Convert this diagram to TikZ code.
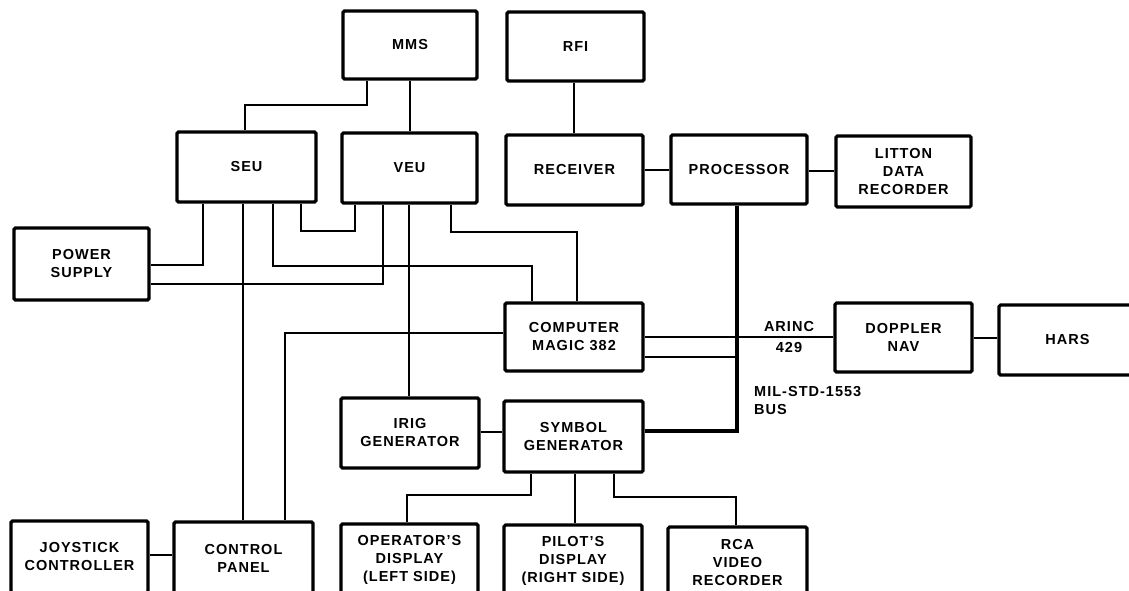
\documentclass[tikz,border=0pt]{standalone}
\usepackage{fontspec}
\setmainfont{Liberation Sans}[LetterSpace=7]
\begin{document}
\begin{tikzpicture}[x=1pt,y=-1pt,
  blk/.style={draw, line width=3.2pt, rounded corners=1.5pt, align=center, inner sep=0pt,
    font=\fontsize{14.5}{18}\selectfont\bfseries},
  wire/.style={line width=1.6pt},
  mwire/.style={line width=2.4pt},
  buswire/.style={line width=3.2pt},
  lbl/.style={inner sep=0pt, font=\fontsize{14.5}{18}\selectfont\bfseries}]
\path[use as bounding box, clip] (0,0) rectangle (1129,591);
\fill[white] (0,0) rectangle (1129,591);
% boxes
\node[blk, minimum width=134pt, minimum height=68pt] (MMS) at (410,45) {MMS};
\node[blk, minimum width=137pt, minimum height=69pt] (RFI) at (575.5,46.5) {RFI};
\node[blk, minimum width=139pt, minimum height=70pt] (SEU) at (246.5,167) {SEU};
\node[blk, minimum width=135pt, minimum height=70pt] (VEU) at (409.5,168) {VEU};
\node[blk, minimum width=137pt, minimum height=70pt] (RECEIVER) at (574.5,170) {RECEIVER};
\node[blk, minimum width=136pt, minimum height=69pt] (PROCESSOR) at (739,169.5) {PROCESSOR};
\node[blk, minimum width=135pt, minimum height=71pt] (LITTON) at (903.5,171.5) {LITTON\\DATA\\RECORDER};
\node[blk, minimum width=135pt, minimum height=72pt] (POWER) at (81.5,264) {POWER\\SUPPLY};
\node[blk, minimum width=138pt, minimum height=68pt] (COMPUTER) at (574,337) {COMPUTER\\MAGIC 382};
\node[blk, minimum width=137pt, minimum height=69pt] (DOPPLER) at (903.5,337.5) {DOPPLER\\NAV};
\node[blk, minimum width=137pt, minimum height=70pt] (HARS) at (1067.5,340) {HARS};
\node[blk, minimum width=138pt, minimum height=70pt] (IRIG) at (410,433) {IRIG\\GENERATOR};
\node[blk, minimum width=139pt, minimum height=71pt] (SYMBOL) at (573.5,436.5) {SYMBOL\\GENERATOR};
\node[blk, minimum width=137pt, minimum height=72pt] (JOYSTICK) at (79.5,557) {JOYSTICK\\CONTROLLER};
\node[blk, minimum width=139pt, minimum height=72pt] (CONTROL) at (243.5,558) {CONTROL\\PANEL};
\node[blk, minimum width=137pt, minimum height=72pt] (OPERATOR) at (409.5,560) {OPERATOR'S\\DISPLAY\\(LEFT SIDE)};
\node[blk, minimum width=138pt, minimum height=72pt] (PILOT) at (573,561) {PILOT'S\\DISPLAY\\(RIGHT SIDE)};
\node[blk, minimum width=139pt, minimum height=72pt] (RCA) at (737.5,563) {RCA\\VIDEO\\RECORDER};
% connectors
\draw[wire] (367,0 |- MMS.south) |- (245,105) -- (245,0 |- SEU.north);
\draw[wire] (410,0 |- MMS.south) -- (410,0 |- VEU.north);
\draw[wire] (574,0 |- RFI.south) -- (574,0 |- RECEIVER.north);
\draw[mwire] (RECEIVER.east |- 0,170) -- (PROCESSOR.west |- 0,170);
\draw[mwire] (PROCESSOR.east |- 0,171) -- (LITTON.west |- 0,171);
\draw[wire] (203,0 |- SEU.south) |- (POWER.east |- 0,265);
\draw[wire] (243,0 |- SEU.south) -- (243,0 |- CONTROL.north);
\draw[wire] (273,0 |- SEU.south) |- (532,266) -- (532,0 |- COMPUTER.north);
\draw[wire] (301,0 |- SEU.south) |- (355,231) -- (355,0 |- VEU.south);
\draw[wire] (383,0 |- VEU.south) |- (POWER.east |- 0,284);
\draw[wire] (409,0 |- VEU.south) -- (409,0 |- IRIG.north);
\draw[wire] (451,0 |- VEU.south) |- (577,232) -- (577,0 |- COMPUTER.north);
\draw[wire] (COMPUTER.west |- 0,333) -| (285,0 |- CONTROL.north);
\draw[mwire] (COMPUTER.east |- 0,337) -- (DOPPLER.west |- 0,337);
\coordinate (busjoin) at (737,357);
\draw[buswire] (737,0 |- PROCESSOR.south) |- (SYMBOL.east |- 0,431);
\draw[mwire] (COMPUTER.east |- 0,357) -- (busjoin);
\draw[mwire] (DOPPLER.east |- 0,338) -- (HARS.west |- 0,338);
\draw[mwire] (IRIG.east |- 0,432) -- (SYMBOL.west |- 0,432);
\draw[wire] (531,0 |- SYMBOL.south) |- (407,495) -- (407,0 |- OPERATOR.north);
\draw[wire] (575,0 |- SYMBOL.south) -- (575,0 |- PILOT.north);
\draw[wire] (614,0 |- SYMBOL.south) |- (736,497) -- (736,0 |- RCA.north);
\draw[mwire] (JOYSTICK.east |- 0,555) -- (CONTROL.west |- 0,555);
% labels
\node[lbl] (arinc) at (789,327) {ARINC};
\node[lbl] (a429) at (789,348) {429};
\node[lbl, align=left, anchor=west] (milstd) at (754,401) {MIL-STD-1553\\BUS};
\end{tikzpicture}
\end{document}
